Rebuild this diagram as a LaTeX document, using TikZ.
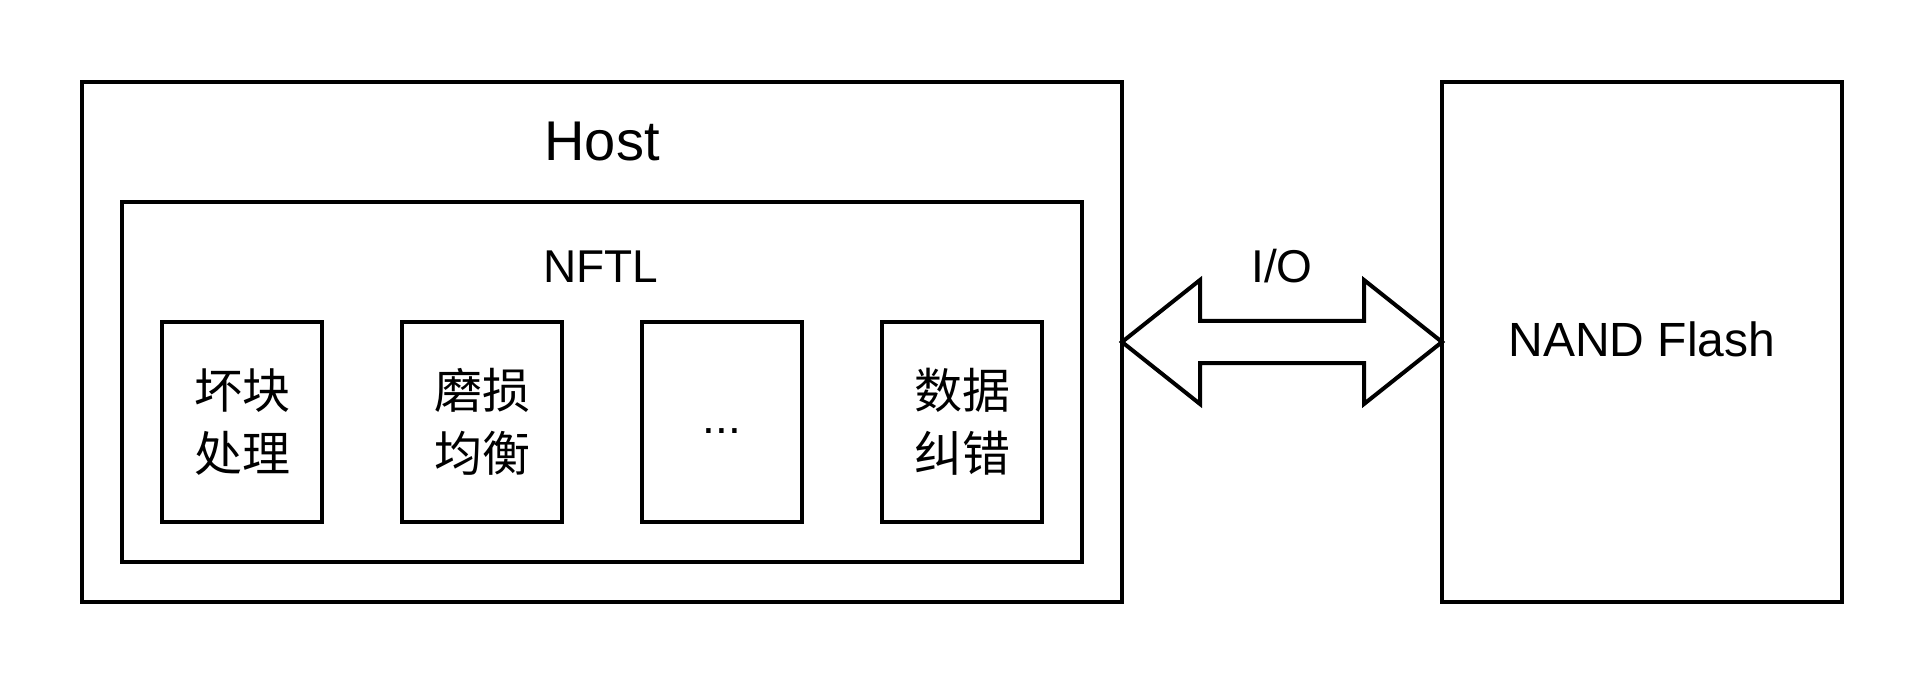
\documentclass[tikz,border=0pt]{standalone}
\usepackage{fontspec}
\setmainfont{Liberation Sans}
\newfontfamily\cjk{Noto Sans CJK SC}
\usetikzlibrary{calc}
\begin{document}
\begin{tikzpicture}[x=1pt,y=-1pt,
  box/.style={draw=black,line width=4pt,rectangle,inner sep=0pt,outer sep=0pt,fill=none},
  modbox/.style={box,minimum width=160pt,minimum height=200pt,align=center,font=\cjk\fontsize{48}{63}\selectfont},
  lbl/.style={anchor=base,inner sep=0pt,font=\fontsize{46}{55}\selectfont}
]
\useasboundingbox (0,0) rectangle (1924,684);
\fill[white] (0,0) rectangle (1924,684);
\node[box,minimum width=1040pt,minimum height=520pt] (host) at (602,342) {};
\node[anchor=base,inner sep=0pt,font=\fontsize{56}{67}\selectfont] (hostlbl) at (602,161) {Host};
\node[box,minimum width=960pt,minimum height=360pt] (nftl) at (602,382) {};
\node[lbl] (nftllbl) at (601,283) {NFTL};
\node[modbox] (m1) at (242,422) {坏块\\处理};
\node[modbox] (m2) at (482,422) {磨损\\均衡};
\node[modbox,font=\fontsize{46}{55}\selectfont] (m3) at (722,422) {\vphantom{Ag}...};
\node[modbox] (m4) at (962,422) {数据\\纠错};
\node[box,minimum width=400pt,minimum height=520pt] (nand) at (1642,342) {};
\node[lbl,font=\fontsize{48}{57}\selectfont] (nandlbl) at (1642,356) {NAND Flash};
\draw[line width=4pt,line join=miter,fill=white]
  (host.east) -- ($(host.east)+(78,-62)$) -- ($(host.east)+(78,-21)$)
  -- ($(nand.west)+(-78,-21)$) -- ($(nand.west)+(-78,-62)$) -- (nand.west)
  -- ($(nand.west)+(-78,62)$) -- ($(nand.west)+(-78,21)$)
  -- ($(host.east)+(78,21)$) -- ($(host.east)+(78,62)$) -- cycle;
\node[lbl] (io) at (1282,283) {I/O};
\end{tikzpicture}
\end{document}
